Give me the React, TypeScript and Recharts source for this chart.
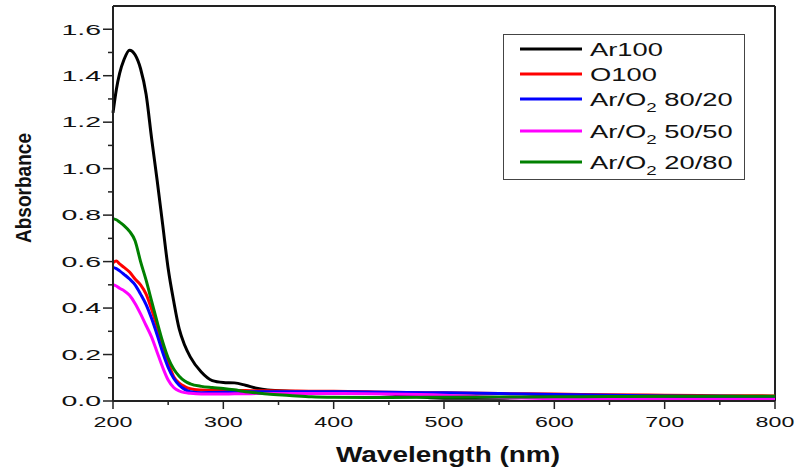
import { Legend, Line, LineChart, ReferenceLine, XAxis, YAxis } from "recharts";

const FONT = "'Liberation Sans', Arial, sans-serif";
const AXIS = "#222";

// wavelength grid (nm) shared by all spectra
const wavelengths = [
  200, 203, 206, 210, 215, 220, 225, 230, 235, 240, 245, 250, 255, 260, 265, 270, 280, 290, 300, 310,
  320, 330, 340, 360, 380, 400, 450, 500, 550, 600, 650, 700, 750, 800,
];

const ar100 = [
  1.24, 1.34, 1.41, 1.47, 1.51, 1.49, 1.43, 1.32, 1.13, 0.95, 0.76, 0.57, 0.43, 0.31, 0.24, 0.19, 0.125,
  0.088, 0.08, 0.078, 0.068, 0.055, 0.047, 0.042, 0.04, 0.038, 0.03, 0.012, 0.012, 0.02, 0.02, 0.02,
  0.019, 0.018,
];
const o100 = [
  0.595, 0.602, 0.59, 0.575, 0.555, 0.525, 0.5, 0.46, 0.395, 0.32, 0.24, 0.165, 0.105, 0.077, 0.062,
  0.053, 0.047, 0.045, 0.045, 0.045, 0.045, 0.044, 0.044, 0.043, 0.042, 0.042, 0.038, 0.035, 0.032,
  0.03, 0.027, 0.025, 0.023, 0.022,
];
const arO2_80_20 = [
  0.575, 0.57, 0.56, 0.545, 0.525, 0.5, 0.46, 0.415, 0.355, 0.285, 0.21, 0.145, 0.098, 0.068, 0.05, 0.04,
  0.036, 0.037, 0.038, 0.039, 0.04, 0.04, 0.04, 0.04, 0.04, 0.04, 0.038, 0.035, 0.032, 0.028, 0.025,
  0.022, 0.02, 0.018,
];
const arO2_50_50 = [
  0.5, 0.495, 0.485, 0.475, 0.455, 0.42, 0.375, 0.325, 0.275, 0.21, 0.145, 0.09, 0.058, 0.043, 0.036,
  0.033, 0.03, 0.03, 0.03, 0.031, 0.031, 0.032, 0.032, 0.032, 0.032, 0.032, 0.03, 0.025, 0.015, 0.01,
  0.009, 0.008, 0.008, 0.008,
];
const arO2_20_80 = [
  0.785, 0.78, 0.77, 0.755, 0.73, 0.69, 0.6, 0.52, 0.43, 0.34, 0.255, 0.185, 0.138, 0.107, 0.086, 0.074,
  0.063, 0.058, 0.054, 0.048, 0.04, 0.035, 0.03, 0.024, 0.018, 0.016, 0.015, 0.016, 0.017, 0.018,
  0.019, 0.02, 0.02, 0.02,
];

const xTicks = [200, 250, 300, 350, 400, 450, 500, 550, 600, 650, 700, 750, 800];
const yTicks = [0, 0.1, 0.2, 0.3, 0.4, 0.5, 0.6, 0.7, 0.8, 0.9, 1.0, 1.1, 1.2, 1.3, 1.4, 1.5, 1.6];

const series = [
  { key: "ar100", color: "#000000", label: ["Ar100", "", ""] },
  { key: "o100", color: "#ff0000", label: ["O100", "", ""] },
  { key: "a8020", color: "#0000ff", label: ["Ar/O", "2", " 80/20"] },
  { key: "a5050", color: "#ff00ff", label: ["Ar/O", "2", " 50/50"] },
  { key: "a2080", color: "#008000", label: ["Ar/O", "2", " 20/80"] },
];

const rows = wavelengths.map((w, i) => ({
  w,
  ar100: ar100[i],
  o100: o100[i],
  a8020: arO2_80_20[i],
  a5050: arO2_50_50[i],
  a2080: arO2_20_80[i],
}));

const XTick = ({ x, y, payload }: any) => {
  const v = payload.value;
  const major = v % 100 === 0;
  return (
    <g>
      <line x1={x} x2={x} y1={y} y2={y + (major ? 8 : 4)} stroke={AXIS} strokeWidth={1.5} />
      {major && (
        <text
          transform={`translate(${x},${y + 26}) scale(1.5,1)`}
          textAnchor="middle"
          fontSize={15.5}
          fontFamily={FONT}
          fill="#111"
        >
          {v}
        </text>
      )}
    </g>
  );
};

const YTick = ({ x, y, payload }: any) => {
  const v = payload.value;
  const major = Math.round(v * 10) % 2 === 0;
  return (
    <g>
      <line x1={x - (major ? 10 : 5)} x2={x} y1={y} y2={y} stroke={AXIS} strokeWidth={1.5} />
      {major && (
        <text
          transform={`translate(${x - 12},${y + 5.3}) scale(1.9,1)`}
          textAnchor="end"
          fontSize={15}
          fontFamily={FONT}
          fill="#111"
        >
          {v.toFixed(1)}
        </text>
      )}
    </g>
  );
};

const XTitle = ({ viewBox }: any) => (
  <text
    x={viewBox.x + viewBox.width / 2 + 4}
    y={462}
    textAnchor="middle"
    fontSize={22}
    fontWeight="bold"
    fontFamily={FONT}
    textLength={224}
    lengthAdjust="spacingAndGlyphs"
    fill="#111"
  >
    Wavelength (nm)
  </text>
);

const YTitle = ({ viewBox }: any) => (
  <text
    transform={`translate(31,${viewBox.y + 182}) rotate(-90)`}
    textAnchor="middle"
    fontSize={22}
    fontWeight="bold"
    fontFamily={FONT}
    textLength={110}
    lengthAdjust="spacingAndGlyphs"
    fill="#111"
  >
    Absorbance
  </text>
);

const legendRows = [15, 40, 65, 97, 128];

const LegendBox = () => (
  <svg width={242} height={146} style={{ display: "block" }}>
    <rect x={0.5} y={0.5} width={241} height={145} fill="#fff" stroke="#444" strokeWidth={1} />
    {series.map((s, i) => {
      const cy = legendRows[i];
      const [main, sub, rest] = s.label;
      return (
        <g key={s.key}>
          <line x1={17} x2={79} y1={cy} y2={cy} stroke={s.color} strokeWidth={3} />
          <text
            transform={`translate(87,${cy + 7}) scale(1.44,1)`}
            fontSize={19}
            fontFamily={FONT}
            fill="#111"
          >
            {main}
            {sub && (
              <tspan dy={6} fontSize={13}>
                {sub}
              </tspan>
            )}
            {sub && <tspan dy={-6}>{rest}</tspan>}
          </text>
        </g>
      );
    })}
  </svg>
);

export default function App() {
  return (
    <div style={{ position: "absolute", left: 0, top: 0, width: 798, height: 467, background: "#fff" }}>
      <LineChart width={798} height={467} data={rows} margin={{ top: 6, right: 23, bottom: 0, left: 0 }}>
        <XAxis
          dataKey="w"
          type="number"
          domain={[200, 800]}
          ticks={xTicks}
          interval={0}
          height={66}
          tickSize={0}
          tickMargin={0}
          tickLine={false}
          tick={(p: any) => <XTick {...p} />}
          axisLine={{ stroke: AXIS, strokeWidth: 2 }}
          label={(p: any) => <XTitle {...p} />}
        />
        <YAxis
          type="number"
          domain={[0, 1.7]}
          ticks={yTicks}
          interval={0}
          width={113}
          tickSize={0}
          tickMargin={0}
          tickLine={false}
          tick={(p: any) => <YTick {...p} />}
          axisLine={{ stroke: AXIS, strokeWidth: 2 }}
          label={(p: any) => <YTitle {...p} />}
        />
        <ReferenceLine y={1.7} stroke={AXIS} strokeWidth={2} />
        <ReferenceLine x={800} stroke={AXIS} strokeWidth={2} />
        {series.map((s) => (
          <Line
            key={s.key}
            dataKey={s.key}
            type="monotone"
            stroke={s.color}
            strokeWidth={3}
            dot={false}
            isAnimationActive={false}
          />
        ))}
        <Legend
          layout="horizontal"
          verticalAlign="middle"
          align="center"
          wrapperStyle={{ left: 503, top: 34, width: 242, height: 146 }}
          content={() => <LegendBox />}
        />
      </LineChart>
    </div>
  );
}
